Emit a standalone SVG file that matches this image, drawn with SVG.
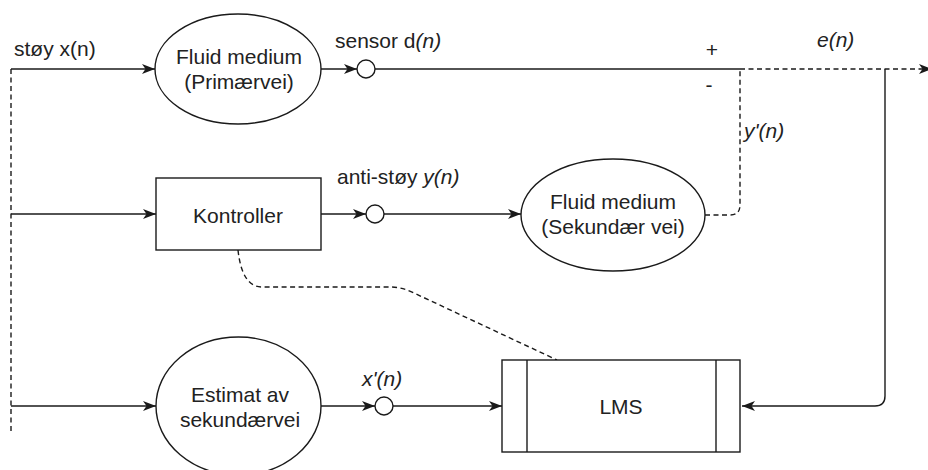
<svg xmlns="http://www.w3.org/2000/svg" width="928" height="470" viewBox="0 0 928 470">
  <style>
    .shape { fill: #ffffff; stroke: #1a1a1a; stroke-width: 1.4; }
    .edge { fill: none; stroke: #1a1a1a; stroke-width: 1.4; }
    .dash { stroke-dasharray: 5 3.5; }
    text { font-family: "Liberation Sans", Arial, Helvetica, sans-serif; font-size: 21px; fill: #222222; }
    .c { text-anchor: middle; }
    .i { font-style: italic; }
  </style>
  <defs>
    <marker id="arrow" markerUnits="userSpaceOnUse" markerWidth="14" markerHeight="12" refX="13" refY="5" orient="auto" overflow="visible">
      <path d="M0,0 L13,5 L0,10 L3.5,5 Z" fill="#1a1a1a" stroke="none"/>
    </marker>
  </defs>
  <rect width="928" height="470" fill="#ffffff"/>

  <!-- connectors -->
  <g id="connectors">
    <!-- noise source rail -->
    <path class="edge dash" d="M11,69 L11,434"/>
    <path class="edge" d="M11,69 L155,69" marker-end="url(#arrow)"/>
    <path class="edge" d="M11,214 L156,214" marker-end="url(#arrow)"/>
    <path class="edge" d="M11,406 L156,406" marker-end="url(#arrow)"/>
    <!-- primary path to sensor and summing point -->
    <path class="edge" d="M320,69 L357,69" marker-end="url(#arrow)"/>
    <path class="edge" d="M375,69 L740,69"/>
    <path class="edge dash" d="M740,69 L932,69" marker-end="url(#arrow)"/>
    <!-- controller output -->
    <path class="edge" d="M321,214 L366,214" marker-end="url(#arrow)"/>
    <path class="edge" d="M384,214 L521,214" marker-end="url(#arrow)"/>
    <!-- secondary path feedback y'(n) -->
    <path class="edge dash" d="M705,215 L730,215 Q740,215 740,205 L740,69"/>
    <!-- estimate to LMS -->
    <path class="edge" d="M321,406 L375,406" marker-end="url(#arrow)"/>
    <path class="edge" d="M393,406 L502,406" marker-end="url(#arrow)"/>
    <!-- error feedback to LMS -->
    <path class="edge" d="M885,69 L885,396 Q885,406 875,406 L742,406" marker-end="url(#arrow)"/>
    <!-- LMS adapts controller -->
    <path class="edge dash" d="M238,250 Q242,287 262,287 L390,287 Q402,287 414,293 L557,360"/>
  </g>

  <!-- nodes -->
  <g id="primary-path">
    <ellipse class="shape" cx="238" cy="69" rx="83" ry="55"/>
    <text class="c" x="239" y="64">Fluid medium</text>
    <text class="c" x="239" y="89">(Primærvei)</text>
  </g>

  <g id="sensor">
    <circle class="shape" cx="366" cy="69" r="9"/>
  </g>

  <g id="controller">
    <rect class="shape" x="156" y="178" width="165" height="72"/>
    <text class="c" x="238" y="223">Kontroller</text>
  </g>

  <g id="anti-noise">
    <circle class="shape" cx="375" cy="214" r="9"/>
  </g>

  <g id="secondary-path">
    <ellipse class="shape" cx="613" cy="215" rx="92" ry="56"/>
    <text class="c" x="613" y="209">Fluid medium</text>
    <text class="c" x="613" y="234">(Sekundær vei)</text>
  </g>

  <g id="secondary-estimate">
    <ellipse class="shape" cx="238.5" cy="406" rx="82.5" ry="69"/>
    <text class="c" x="240" y="402">Estimat av</text>
    <text class="c" x="240" y="427">sekundærvei</text>
  </g>

  <g id="filtered-ref">
    <circle class="shape" cx="384" cy="406" r="9"/>
  </g>

  <g id="lms">
    <rect class="shape" x="502" y="360" width="238" height="92"/>
    <line class="edge" x1="527" y1="360" x2="527" y2="452"/>
    <line class="edge" x1="716" y1="360" x2="716" y2="452"/>
    <text class="c" x="621" y="414">LMS</text>
  </g>

  <!-- signal labels -->
  <g id="labels">
    <text x="14" y="56">støy x(n)</text>
    <text x="335" y="48">sensor d<tspan class="i">(n)</tspan></text>
    <text x="337" y="184">anti-støy <tspan class="i">y(n)</tspan></text>
    <text class="i" x="362" y="386">x'(n)</text>
    <text class="c" x="712" y="57">+</text>
    <text class="c" x="709" y="92">-</text>
    <text class="i" x="817" y="47">e(n)</text>
    <text class="i" x="744" y="138">y'(n)</text>
  </g>
</svg>
